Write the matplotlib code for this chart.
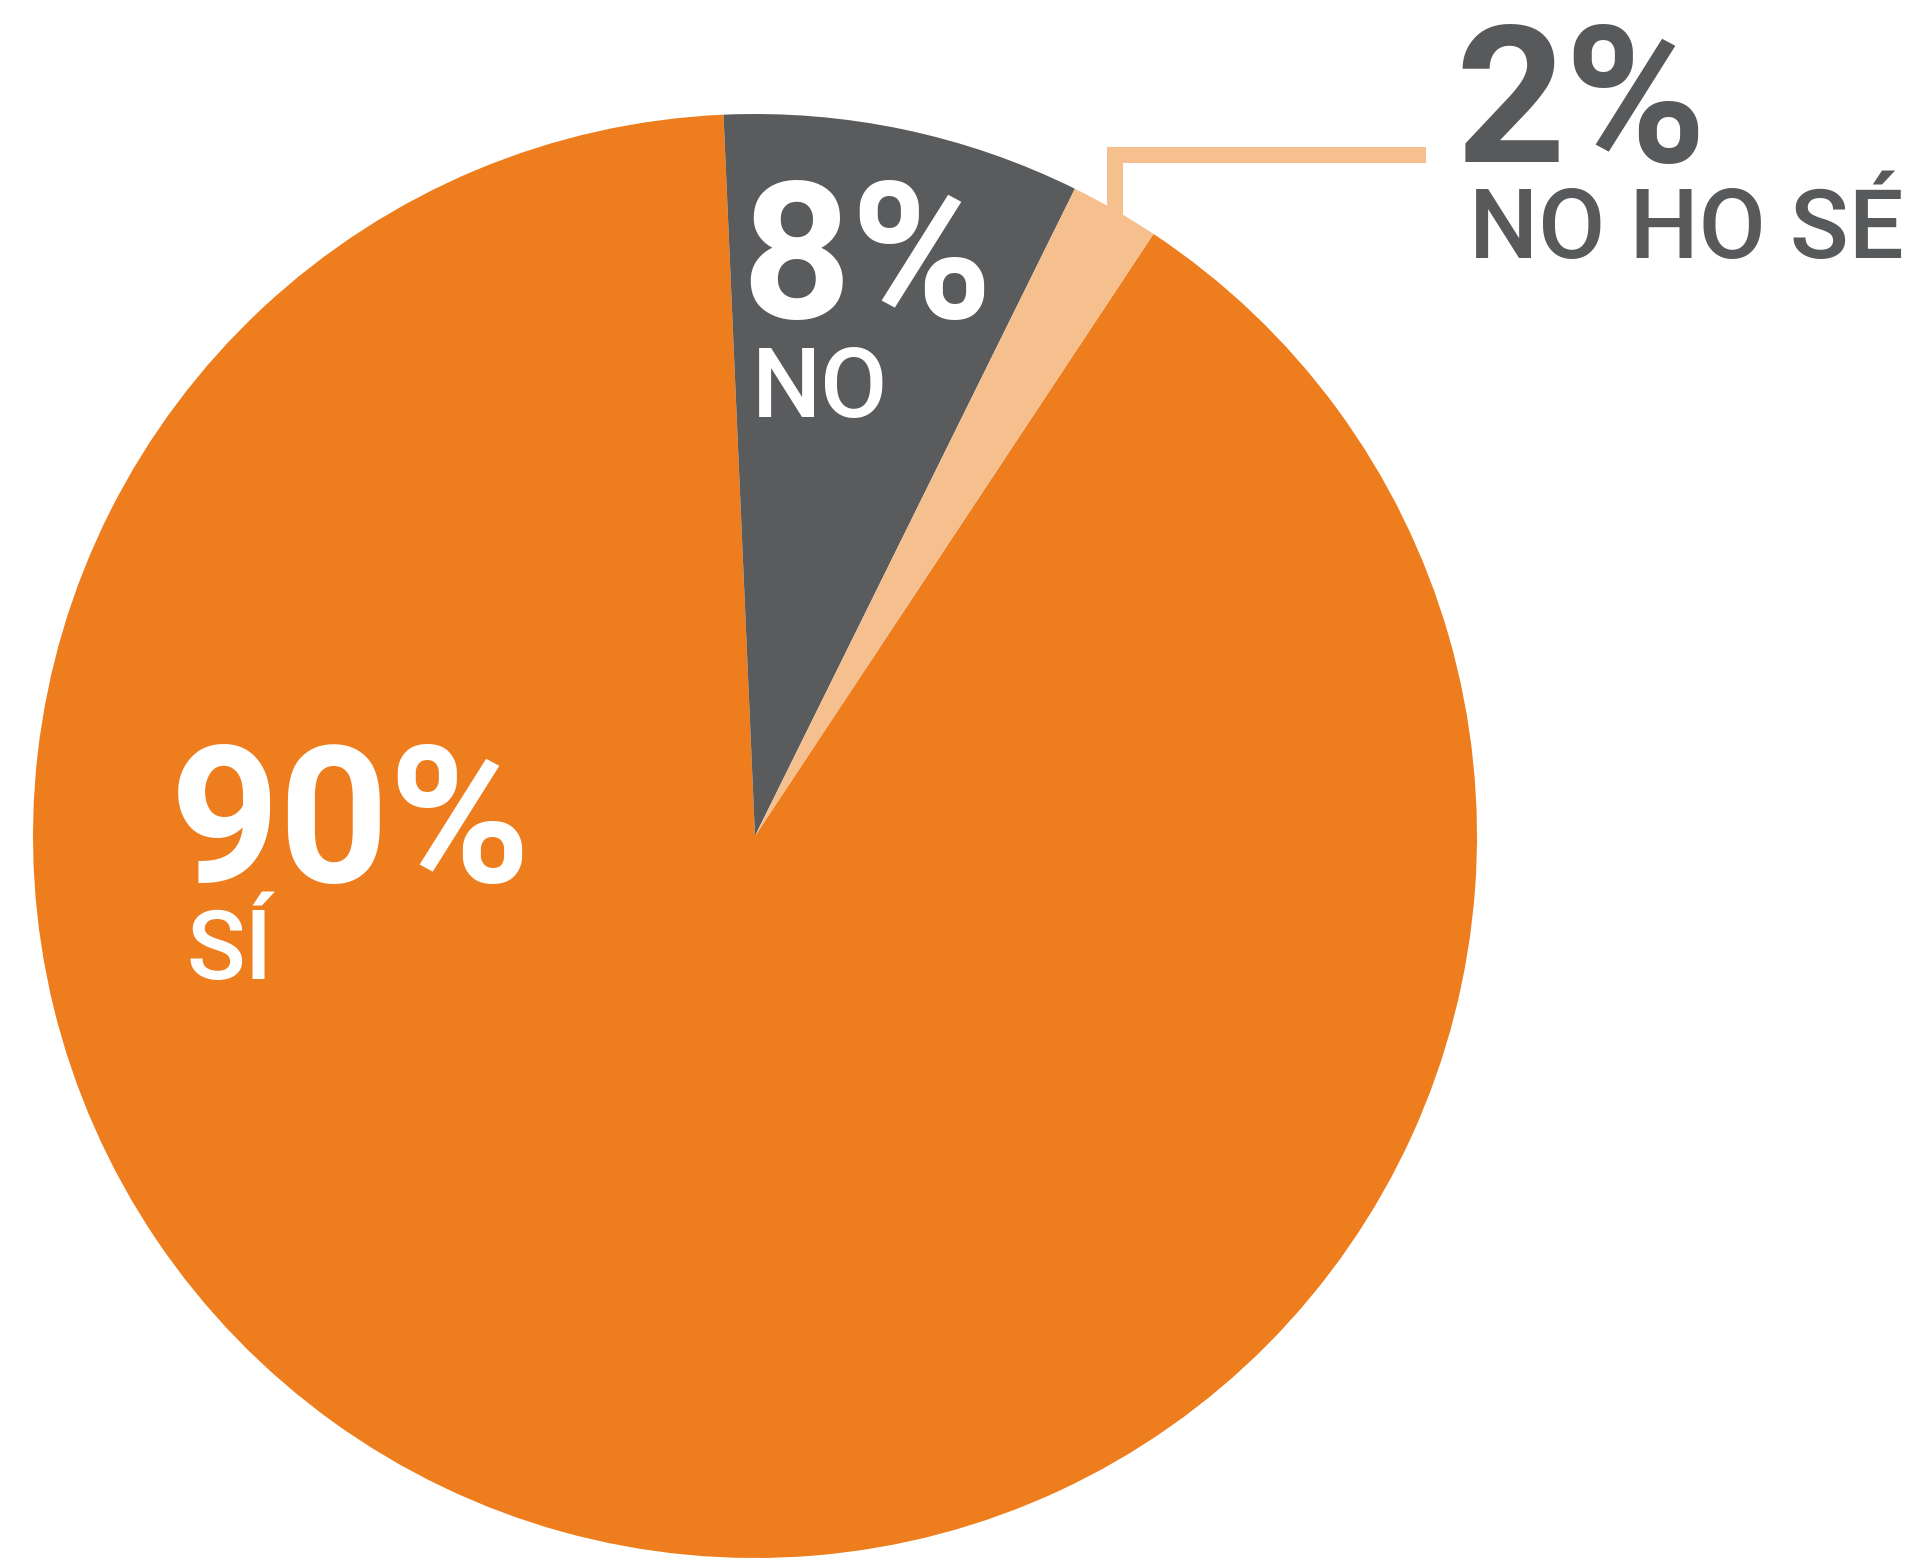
import matplotlib
matplotlib.use("Agg")
import matplotlib.pyplot as plt

# ---- data ----
categories = ["SÍ", "NO", "NO HO SÉ"]
values = [90, 8, 2]
pct_labels = ["90%", "8%", "2%"]

colors = ["#EE7D1D", "#5A5B5D", "#F6BF8E"]
W, H = 1931, 1560
fig = plt.figure(figsize=(W / 100, H / 100), dpi=100)
fig.patch.set_facecolor("white")

cx, cy, R = 755, 836, 722  # pixel centre and radius
ax = fig.add_axes([(cx - R) / W, (H - cy - R) / H, 2 * R / W, 2 * R / H])
ax.pie(values, colors=colors, startangle=56.5, counterclock=False,
       radius=1, wedgeprops=dict(linewidth=0))
ax.set_xlim(-1, 1)
ax.set_ylim(-1, 1)
ax.set_aspect("auto")
ax.axis("off")

# leader line for the small slice
lc = colors[2]
ax.plot([0.4993, 0.4993, 0.930], [0.84, 0.9428, 0.9428], color=lc,
        linewidth=11.5, solid_joinstyle="miter", solid_capstyle="butt",
        clip_on=False)

def px(x, y):
    return x / W, 1 - y / H

big = 138
small = 70
white = "white"
grey = "#58595B"
bw = 700
sw = 500

# 90% SÍ
fig.text(*px(170, 882), pct_labels[0], fontsize=big, fontweight=bw,
         family="Roboto", color=white, ha="left", va="baseline")
fig.text(*px(187, 979.5), categories[0], fontsize=small, fontweight=sw,
         family="Roboto", color=white, ha="left", va="baseline")
# 8% NO
fig.text(*px(741, 318), pct_labels[1], fontsize=big, fontweight=bw,
         family="Roboto", color=white, ha="left", va="baseline")
fig.text(*px(752, 416.5), categories[1], fontsize=small, fontweight=sw,
         family="Roboto", color=white, ha="left", va="baseline")
# 2% NO HO SÉ
fig.text(*px(1455, 161.5), pct_labels[2], fontsize=big, fontweight=bw,
         family="Roboto", color=grey, ha="left", va="baseline")
fig.text(*px(1469, 258.3), categories[2], fontsize=small, fontweight=sw,
         family="Roboto", color=grey, ha="left", va="baseline")

fig.savefig("out.png", dpi=100, facecolor="white")
